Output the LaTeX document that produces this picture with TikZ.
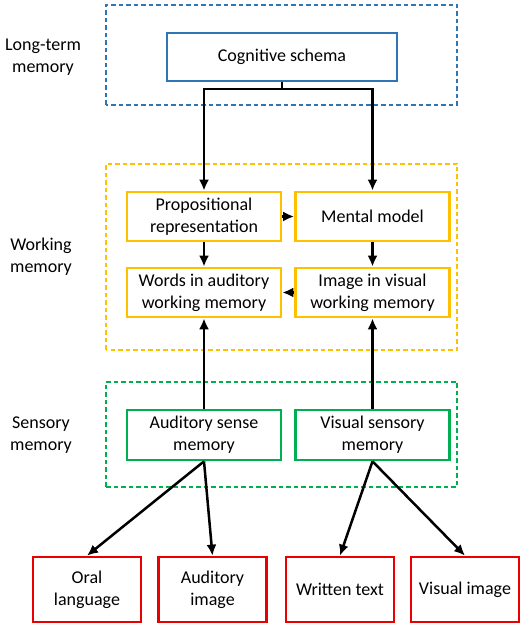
\documentclass[tikz,border=0pt]{standalone}
\usepackage{fontspec}
\setmainfont{Carlito}
\usetikzlibrary{arrows.meta,positioning}
\definecolor{ltmblue}{RGB}{46,117,182}
\definecolor{wmyellow}{RGB}{255,192,0}
\definecolor{smgreen}{RGB}{0,176,80}
\definecolor{inred}{RGB}{235,0,0}
\tikzset{
    membox/.style={draw, line width=2.7pt, align=center, inner sep=0pt,
        minimum width=154pt, minimum height=49pt, font=\fontsize{18}{22}\selectfont},
    inbox/.style={membox, draw=inred, minimum width=108pt, minimum height=65pt},
    memframe/.style={line width=1.7pt, dash pattern=on 4.5pt off 3pt},
    layerlabel/.style={align=center, font=\fontsize{18}{22}\selectfont},
    flow/.style={-{Latex[length=11pt,width=10pt]}, line width=2.5pt}
}
\begin{document}
\begin{tikzpicture}[x=1pt,y=1pt]
    \useasboundingbox (0,0) rectangle (523,625);
    % Memory stores
    \draw[memframe, ltmblue] (106,520) rectangle (457,620);
    \draw[memframe, wmyellow] (106,275) rectangle (457,461);
    \draw[memframe, smgreen] (106,138) rectangle (457,243);
    \node[layerlabel] (ltm) at (43,568) {Long-term\\memory};
    \node[layerlabel] (wm) at (41,368) {Working\\memory};
    \node[layerlabel] (sm) at (41,190) {Sensory\\memory};
    % Long-term memory
    \node[membox, draw=ltmblue, minimum width=230pt, minimum height=48pt] (schema) at (282,568) {Cognitive schema};
    \coordinate (split) at (282,536);
    % Working memory
    \node[membox, draw=wmyellow] (prop) at (204,408.5) {Propositional\\representation};
    \node[membox, draw=wmyellow] (mental) at (372.5,408.5) {Mental model};
    \node[membox, draw=wmyellow] (words) at (204,332.5) {Words in auditory\\working memory};
    \node[membox, draw=wmyellow] (image) at (372.5,332.5) {Image in visual\\working memory};
    % Sensory memory
    \node[membox, draw=smgreen, minimum height=50pt] (audsense) at (204,190) {Auditory sense\\memory};
    \node[membox, draw=smgreen, minimum height=50pt] (vissense) at (372.5,190) {Visual sensory\\memory};
    % Presentations
    \node[inbox] (oral) at (87,35.5) {Oral\\language};
    \node[inbox] (audimg) at (212.5,35.5) {Auditory\\image};
    \node[inbox] (written) at (340,35.5) {Written text};
    \node[inbox] (visimg) at (465,35.5) {Visual image};
    % Connectors
    \draw[line width=2.5pt] (schema.south) -- (split);
    \draw[flow] (split) -| (prop);
    \draw[flow] (split) -| (mental);
    \draw[flow] (prop) -- (mental);
    \draw[flow] (prop) -- (words);
    \draw[flow] (mental) -- (image);
    \draw[flow] (image) -- (words);
    \draw[flow] (audsense) -- (words);
    \draw[flow] (vissense) -- (image);
    \draw[flow] (audsense.south) -- (oral.north);
    \draw[flow] (audsense.south) -- (audimg.north);
    \draw[flow] (vissense.south) -- (written.north);
    \draw[flow] (vissense.south) -- (visimg.north);
\end{tikzpicture}
\end{document}
